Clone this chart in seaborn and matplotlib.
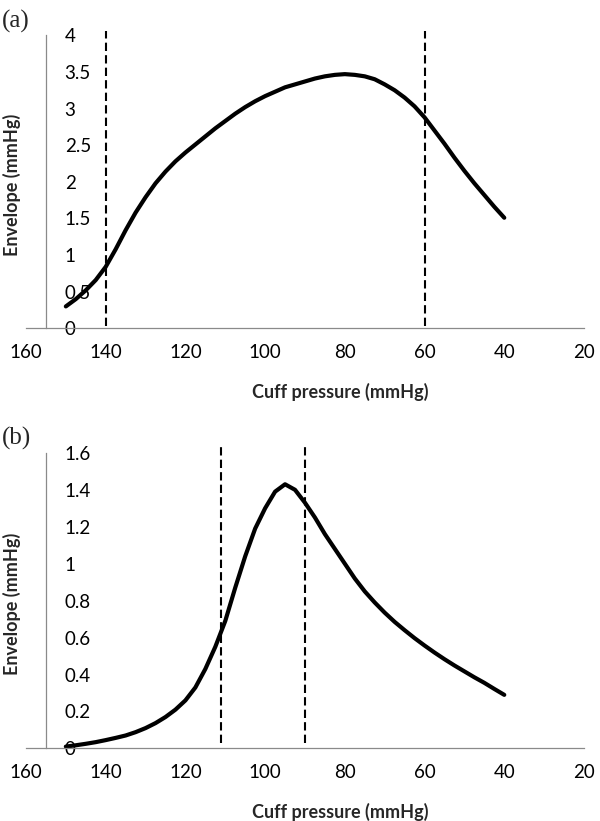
import numpy as np
import pandas as pd
import matplotlib
matplotlib.use("Agg")
import matplotlib.pyplot as plt
import seaborn as sns

# =========================
# Setup
# =========================
sns.set_theme(style="white")
plt.rcParams["font.family"] = ["Lato", "DejaVu Sans"]

# =========================
# Data
# =========================
pressure_a = [150, 147.5, 145, 142.5, 140, 137.5, 135, 132.5, 130, 127.5, 125,
              122.5, 120, 117.5, 115, 112.5, 110, 107.5, 105, 102.5, 100, 97.5,
              95, 92.5, 90, 87.5, 85, 82.5, 80, 77.5, 75, 72.5, 70, 67.5, 65,
              62.5, 60, 57.5, 55, 52.5, 50, 47.5, 45, 42.5, 40]
envelope_a = [0.30, 0.40, 0.52, 0.66, 0.84, 1.08, 1.34, 1.58, 1.79, 1.98, 2.14,
              2.28, 2.40, 2.51, 2.62, 2.73, 2.83, 2.93, 3.02, 3.10, 3.17, 3.23,
              3.29, 3.33, 3.37, 3.41, 3.44, 3.46, 3.47, 3.46, 3.44, 3.40, 3.33,
              3.25, 3.15, 3.03, 2.88, 2.70, 2.52, 2.33, 2.15, 1.98, 1.82, 1.66,
              1.51]
limits_a = [140, 60]

pressure_b = [150, 147.5, 145, 142.5, 140, 137.5, 135, 132.5, 130, 127.5, 125,
              122.5, 120, 117.5, 115, 112.5, 110, 107.5, 105, 102.5, 100, 97.5,
              95, 92.5, 90, 87.5, 85, 82.5, 80, 77.5, 75, 72.5, 70, 67.5, 65,
              62.5, 60, 57.5, 55, 52.5, 50, 47.5, 45, 42.5, 40]
envelope_b = [0.01, 0.017, 0.025, 0.034, 0.045, 0.057, 0.07, 0.088, 0.11, 0.137,
              0.17, 0.21, 0.26, 0.33, 0.43, 0.55, 0.69, 0.87, 1.04, 1.19, 1.30,
              1.39, 1.43, 1.40, 1.33, 1.25, 1.16, 1.08, 1.00, 0.92, 0.85, 0.79,
              0.735, 0.685, 0.64, 0.597, 0.557, 0.519, 0.483, 0.449, 0.417,
              0.385, 0.355, 0.322, 0.29]
limits_b = [111, 90]

x_ticks = [160, 140, 120, 100, 80, 60, 40, 20]
y_ticks_a = [0, 0.5, 1, 1.5, 2, 2.5, 3, 3.5, 4]
y_ticks_b = [0, 0.2, 0.4, 0.6, 0.8, 1, 1.2, 1.4, 1.6]

x_label = "Cuff pressure (mmHg)"
y_label = "Envelope (mmHg)"

AXIS_GRAY = "#8a8a8a"

# =========================
# Figure
# =========================
fig = plt.figure(figsize=(6, 8.21), dpi=100)
ax_a = fig.add_axes([0.0433, 0.600, 0.930, 0.357])
ax_b = fig.add_axes([0.0433, 0.0884, 0.930, 0.360])


def draw_panel(ax, pressure, envelope, limits, y_ticks, dash_lo, dash_hi, xlab_y):
    df = pd.DataFrame({"pressure": pressure, "envelope": envelope})
    sns.lineplot(data=df, x="pressure", y="envelope", color="black",
                 linewidth=3, ax=ax)
    ax.vlines(limits, dash_lo, dash_hi, colors="black", linewidth=1.5,
              linestyles=(0, (4, 2)), clip_on=False)

    # spines first: moving a spine resets the tick objects
    for side in ["top", "right"]:
        ax.spines[side].set_visible(False)
    ax.spines["left"].set_position(("data", 155))
    for side in ["left", "bottom"]:
        ax.spines[side].set_color(AXIS_GRAY)
        ax.spines[side].set_linewidth(0.9)

    ax.set_xlim(160, 20)
    ax.set_ylim(y_ticks[0], y_ticks[-1])
    ax.set_xticks(x_ticks, [f"{v:g}" for v in x_ticks], fontsize=13.5)
    ax.set_yticks(y_ticks, [f"{v:g}" for v in y_ticks], fontsize=13.5)
    ax.tick_params(axis="x", length=0, pad=11, colors="black")
    ax.tick_params(axis="y", length=0, pad=-13.5, colors="black")
    plt.setp(ax.get_yticklabels(), ha="left")

    ax.set_xlabel(x_label, fontsize=13, fontweight="bold", va="center")
    ax.xaxis.set_label_coords(0.5627, xlab_y)
    ax.set_ylabel(y_label, fontsize=13, fontweight="bold", va="center")
    ax.yaxis.set_label_coords(-0.025, 0.49)
    ax.patch.set_alpha(0)


draw_panel(ax_a, pressure_a, envelope_a, limits_a, y_ticks_a, 0.03, 4.06, -0.217)
draw_panel(ax_b, pressure_b, envelope_b, limits_b, y_ticks_b, 0.03, 1.63, -0.215)

# Panel letters
fig.text(0.003, 1 - 21 / 821, "(a)", fontsize=18, va="center", ha="left",
         family=["Liberation Serif", "DejaVu Serif"])
fig.text(0.003, 1 - 438 / 821, "(b)", fontsize=18, va="center", ha="left",
         family=["Liberation Serif", "DejaVu Serif"])

# =========================
# Save
# =========================
fig.savefig("out.png", dpi=100)
plt.close(fig)
